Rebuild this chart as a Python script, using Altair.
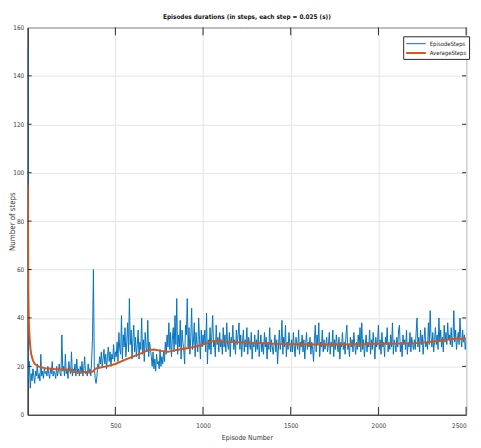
import altair as alt
import pandas as pd

# ---------------- data ----------------
early_episodes = [1, 2, 3, 4]
early_steps = [152, 58, 25, 16]

# episode steps sampled every 5 episodes (5, 10, ..., 2500)
steps_main = [
    15, 22, 11, 17, 14, 19, 16, 13, 18, 16, 21, 15, 17, 14, 25, 16, 18, 15, 19, 17,
    18, 16, 20, 17, 15, 19, 17, 22, 16, 18, 17, 15, 20, 16, 18, 21, 17, 16, 33, 18,
    20, 16, 25, 17, 19, 15, 22, 18, 17, 26, 16, 19, 18, 21, 16, 23, 17, 19, 16, 20,
    17, 22, 16, 19, 24, 17, 18, 16, 21, 17, 19, 16, 23, 32, 60, 20, 15, 13, 16, 21,
    19, 24, 21, 26, 20, 23, 27, 21, 25, 19, 24, 28, 22, 26, 20, 25, 23, 29, 22, 26,
    24, 30, 22, 34, 27, 25, 41, 23, 33, 28, 36, 24, 30, 38, 26, 48, 29, 35, 23, 31,
    37, 26, 32, 24, 29, 35, 23, 30, 27, 40, 25, 31, 22, 34, 28, 26, 39, 24, 30, 27,
    24, 20, 26, 19, 23, 18, 25, 21, 22, 19, 27, 20, 24, 21, 26, 22, 30, 25, 33, 28,
    38, 27, 34, 24, 31, 36, 26, 41, 29, 48, 25, 33, 28, 39, 23, 35, 30, 27, 21, 37,
    33, 48, 28, 36, 25, 32, 44, 27, 30, 38, 24, 34, 29, 26, 40, 31, 23, 35, 28, 33,
    29, 35, 26, 42, 21, 31, 27, 36, 25, 33, 41, 28, 30, 24, 37, 29, 32, 26, 34, 28,
    31, 25, 36, 28, 33, 26, 38, 29, 27, 34, 24, 32, 30, 37, 27, 31, 25, 35, 29, 33,
    38, 27, 33, 24, 30, 35, 26, 31, 28, 36, 25, 32, 29, 27, 34, 23, 30, 28, 33, 26,
    31, 27, 35, 24, 29, 33, 26, 30, 25, 34, 28, 32, 23, 30, 27, 36, 26, 31, 28, 25,
    29, 33, 26, 31, 21, 28, 35, 27, 30, 39, 25, 32, 28, 37, 24, 30, 27, 34, 29, 26,
    31, 26, 34, 28, 24, 32, 29, 27, 35, 25, 30, 28, 33, 26, 31, 23, 29, 34, 27, 30,
    28, 32, 25, 30, 27, 22, 31, 37, 26, 33, 29, 38, 24, 30, 28, 35, 26, 31, 27, 29,
    32, 26, 29, 34, 25, 30, 28, 35, 24, 31, 27, 33, 29, 26, 32, 23, 30, 28, 34, 27,
    30, 25, 33, 37, 27, 29, 24, 32, 28, 31, 26, 34, 29, 25, 30, 27, 33, 28, 36, 26,
    38, 27, 31, 24, 29, 33, 26, 30, 28, 35, 25, 31, 27, 34, 29, 23, 32, 28, 30, 37,
    27, 31, 25, 34, 28, 30, 24, 32, 29, 36, 26, 30, 27, 33, 28, 38, 25, 31, 29, 26,
    32, 28, 35, 37, 26, 30, 24, 33, 29, 31, 27, 35, 25, 30, 28, 34, 26, 32, 29, 27,
    31, 27, 34, 40, 28, 32, 26, 35, 29, 33, 25, 31, 36, 28, 30, 27, 38, 29, 43, 32,
    28, 34, 26, 31, 36, 29, 33, 27, 40, 30, 35, 28, 32, 26, 37, 30, 34, 29, 38, 31,
    33, 29, 36, 28, 32, 43, 30, 35, 27, 31, 34, 29, 40, 32, 28, 35, 30, 33, 27, 31,
]

avg_episodes = [1, 2, 3, 4, 5, 7, 10, 15, 20, 30, 40, 60, 80, 100, 150, 200, 250,
                255, 300, 370, 385, 400, 450, 500, 550, 600, 650, 690, 720, 760,
                800, 850, 900, 950, 1000, 1050, 1080, 1120, 1200, 1300, 1400, 1500,
                1600, 1700, 1800, 1900, 2000, 2100, 2200, 2250, 2300, 2350, 2400,
                2450, 2500]
avg_steps = [95, 75, 62, 52, 45, 38, 33, 28, 25, 22.5, 21, 20, 19.6, 19.2, 18.9,
             18.7, 18.6, 17.7, 17.6, 17.8, 19.0, 19.3, 20.0, 21.0, 22.6, 24.0, 25.5,
             26.8, 27.0, 26.4, 26.0, 26.8, 27.4, 28.0, 29.0, 30.4, 30.6, 30.2, 30.0,
             29.7, 29.3, 29.1, 29.0, 29.0, 29.0, 29.1, 29.3, 29.4, 29.5, 29.8, 30.2,
             30.6, 31.1, 31.5, 31.4]

x_ticks = [500, 1000, 1500, 2000, 2500]
y_ticks = [0, 20, 40, 60, 80, 100, 120, 140, 160]
series_names = ["EpisodeSteps", "AverageSteps"]
series_colors = ["#0072BD", "#D95319"]
series_widths = [1.0, 2.0]

# ---------------- tables ----------------
episodes = early_episodes + [5 * (i + 1) for i in range(len(steps_main))]
df_ep = pd.DataFrame({"episode": episodes, "steps": early_steps + steps_main,
                      "series": series_names[0]})
df_avg = pd.DataFrame({"episode": avg_episodes, "steps": avg_steps,
                       "series": series_names[1]})
df_xt = pd.DataFrame({"t": x_ticks})
df_yt = pd.DataFrame({"t": y_ticks[1:-1]})

W, H = 446, 394
FONT = "Liberation Sans Narrow, Arial Narrow, DejaVu Sans Condensed, Liberation Sans, sans-serif"
AX = "#262626"

xscale = alt.Scale(domain=[0, 2500], nice=False, zero=False)
yscale = alt.Scale(domain=[0, 160], nice=False)

color = alt.Color("series:N", scale=alt.Scale(domain=series_names, range=series_colors),
                  sort=series_names,
                  legend=alt.Legend(title=None, orient="none", legendX=382, legendY=9,
                                    fillColor="white", strokeColor=AX, padding=2,
                                    labelFontSize=6, labelFont=FONT, labelColor="#222222",
                                    symbolType="M-2,0H2", symbolSize=100,
                                    symbolStrokeWidth=1.5, symbolOffset=5,
                                    rowPadding=0, labelOffset=8, labelLimit=80))
width_enc = alt.StrokeWidth("series:N", scale=alt.Scale(domain=series_names, range=series_widths),
                            legend=None)

x_enc = alt.X("episode:Q", scale=xscale,
              axis=alt.Axis(values=x_ticks, title="Episode Number", grid=True, format="d",
                            ticks=False, labelPadding=8, titlePadding=5,
                            labelFontSize=6.5, titleFontSize=7))
y_enc = alt.Y("steps:Q", scale=yscale,
              axis=alt.Axis(values=y_ticks, title="Number of steps", grid=True, format="d",
                            ticks=False, labelPadding=4, labelFontSize=6.5,
                            titleFontSize=8, titleX=-15, titleY=H / 2,
                            titleAngle=270, titleAlign="center", titleBaseline="middle"))

blue = alt.Chart(df_ep).mark_line(clip=True).encode(x=x_enc, y=y_enc, color=color,
                                                   strokeWidth=width_enc)
orange = alt.Chart(df_avg).mark_line(clip=True).encode(x="episode:Q", y="steps:Q",
                                                      color=color, strokeWidth=width_enc)

tick_bottom = alt.Chart(df_xt).mark_rule(color=AX, strokeWidth=1).encode(
    x=alt.X("t:Q", scale=xscale), y=alt.value(H), y2=alt.value(H - 8))
tick_top = alt.Chart(df_xt).mark_rule(color=AX, strokeWidth=1).encode(
    x=alt.X("t:Q", scale=xscale), y=alt.value(0), y2=alt.value(8))
tick_left = alt.Chart(df_yt).mark_rule(color=AX, strokeWidth=1).encode(
    y=alt.Y("t:Q", scale=yscale), x=alt.value(0), x2=alt.value(4))
tick_right = alt.Chart(df_yt).mark_rule(color=AX, strokeWidth=1).encode(
    y=alt.Y("t:Q", scale=yscale), x=alt.value(W), x2=alt.value(W - 4))

chart = alt.layer(blue, orange, tick_bottom, tick_top, tick_left, tick_right).properties(
    width=W, height=H,
    background="white",
    title=alt.TitleParams("Episodes durations (in steps, each step = 0.025 (s))",
                          fontSize=6.5, fontWeight="bold", font=FONT, color="#111111",
                          offset=4, anchor="middle"),
    autosize=alt.AutoSizeParams(type="none"),
    padding={"left": 20, "top": 16, "right": 7, "bottom": 30},
).configure_view(stroke=AX, strokeWidth=1).configure_axis(
    domainColor=AX, domainWidth=1, gridColor="#e4e4e4", gridWidth=1,
    labelColor="#404040", titleColor="#333333", labelFont=FONT, titleFont=FONT,
    titleFontWeight="normal"
)

chart.save("out.html", embed_options={"renderer": "svg", "actions": False})
